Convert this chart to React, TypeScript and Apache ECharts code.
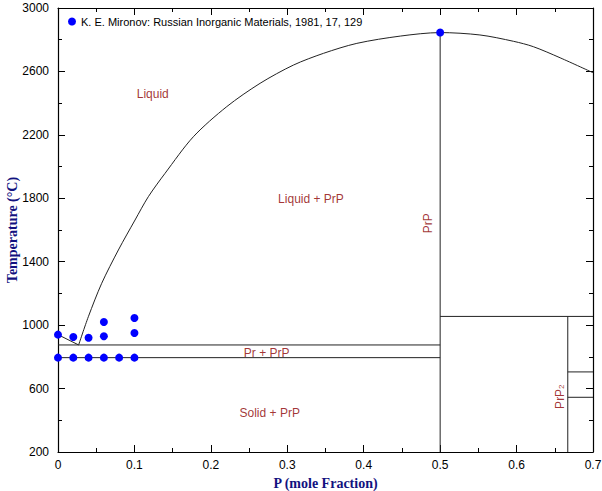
import React, { useEffect, useRef } from 'react';
import * as echarts from 'echarts';

const xTickValues = [0, 0.1, 0.2, 0.3, 0.4, 0.5, 0.6, 0.7];
const yTickValues = [200, 600, 1000, 1400, 1800, 2200, 2600, 3000];

const legendName = 'K. E. Mironov: Russian Inorganic Materials, 1981, 17, 129';

const liquidusCurve = [
  [0.027, 875], [0.0397, 1053], [0.0572, 1264], [0.079, 1474], [0.1008, 1663],
  [0.1182, 1810], [0.14, 1957], [0.1771, 2188], [0.2208, 2378], [0.2644, 2525],
  [0.308, 2640], [0.3473, 2714], [0.391, 2777], [0.448, 2823], [0.5, 2845],
  [0.552, 2830], [0.596, 2790], [0.622, 2756], [0.657, 2686], [0.7, 2592],
];
const prLiquidus = [[0, 940], [0.027, 875]];
const eutecticLine = [[0, 875], [0.5, 875]];
const transitionLine = [[0, 795], [0.5, 795]];
const prpLine = [[0.5, 200], [0.5, 2845]];
const prp2Peritectic = [[0.5, 1055], [0.7, 1055]];
const prp2Line = [[0.667, 200], [0.667, 1055]];
const line705 = [[0.667, 705], [0.7, 705]];
const line545 = [[0.667, 545], [0.7, 545]];

const mironovPoints = [
  [0, 940], [0.02, 925], [0.04, 920], [0.06, 1020], [0.06, 930],
  [0.1, 1045], [0.1, 950],
  [0, 795], [0.02, 795], [0.04, 795], [0.06, 795], [0.08, 795], [0.1, 795],
  [0.5, 2845],
];

const regionLabels = [
  { text: 'Liquid', x: 0.124, y: 2460, rotate: 0 },
  { text: 'Liquid + PrP', x: 0.331, y: 1795, rotate: 0 },
  { text: 'PrP', x: 0.484, y: 1642, rotate: 90 },
  { text: 'Pr + PrP', x: 0.273, y: 822, rotate: 0 },
  { text: 'Solid + PrP', x: 0.277, y: 444, rotate: 0 },
  { text: '{a|PrP}{s|2}', x: 0.655, y: 549, rotate: 90 },
];

const lineColor = '#222';
const labelColor = '#8b0000';
const nameColor = '#12127f';
const sans = 'Liberation Sans, Arial, Helvetica, sans-serif';
const serif = 'Liberation Serif, Times New Roman, serif';

function lineSeries(data: number[][], smooth: boolean | number = false) {
  return {
    type: 'line',
    data,
    symbol: 'none',
    smooth,
    silent: true,
    lineStyle: { color: lineColor, width: 1 },
    z: 2,
  };
}

export default function App() {
  const ref = useRef<HTMLDivElement>(null);
  useEffect(() => {
    if (!ref.current) return;
    const chart = echarts.init(ref.current, undefined, { renderer: 'svg' });
    const axisCommon = {
      type: 'value',
      axisLine: { show: true, onZero: false, lineStyle: { color: '#000', width: 1.2 } },
      axisTick: { show: true, inside: true, length: 7, lineStyle: { color: '#000', width: 1 } },
      minorTick: { show: true, splitNumber: 2, length: 4, lineStyle: { color: '#000', width: 1 } },
      splitLine: { show: false },
    };
    const xCommon = { ...axisCommon, min: 0, max: 0.7, interval: 0.1 };
    const yCommon = { ...axisCommon, min: 200, max: 3000, interval: 400 };
    chart.setOption({
      animation: false,
      backgroundColor: '#fff',
      grid: { left: 58, right: 9, top: 8, bottom: 39, containLabel: false, outerBoundsMode: 'none' },
      legend: {
        show: true,
        data: [{ name: legendName, icon: 'circle' }],
        left: 68,
        top: 16,
        padding: 0,
        itemWidth: 8,
        itemHeight: 8,
        textStyle: { fontSize: 11, color: '#000', fontFamily: sans },
      },
      xAxis: [
        {
          ...xCommon,
          position: 'bottom',
          name: 'P (mole Fraction)',
          nameLocation: 'middle',
          nameGap: 24,
          nameMoveOverlap: false,
          nameTextStyle: { fontFamily: serif, fontWeight: 'bold', fontSize: 14, color: nameColor },
          axisLabel: {
            show: true,
            margin: 7,
            fontSize: 12,
            color: '#000',
            fontFamily: sans,
            formatter: (v: number) => {
              const idx = xTickValues.findIndex((t) => Math.abs(t - v) < 1e-9);
              return idx >= 0 ? String(xTickValues[idx]) : '';
            },
          },
        },
        { ...xCommon, position: 'top', axisLabel: { show: false } },
      ],
      yAxis: [
        {
          ...yCommon,
          position: 'left',
          name: 'Temperature (°C)',
          nameLocation: 'middle',
          nameGap: 39,
          nameMoveOverlap: false,
          nameTextStyle: { fontFamily: serif, fontWeight: 'bold', fontSize: 14, color: nameColor },
          axisLabel: {
            show: true,
            margin: 9,
            fontSize: 12,
            color: '#000',
            fontFamily: sans,
            formatter: (v: number) => {
              const idx = yTickValues.findIndex((t) => Math.abs(t - v) < 1e-6);
              return idx >= 0 ? String(yTickValues[idx]) : '';
            },
          },
        },
        { ...yCommon, position: 'right', axisLabel: { show: false } },
      ],
      series: [
        lineSeries(liquidusCurve, 0.3),
        lineSeries(prLiquidus),
        lineSeries(eutecticLine),
        lineSeries(transitionLine),
        lineSeries(prpLine),
        lineSeries(prp2Peritectic),
        lineSeries(prp2Line),
        lineSeries(line705),
        lineSeries(line545),
        {
          type: 'scatter',
          name: 'labels',
          silent: true,
          symbolSize: 0,
          data: regionLabels.map((l) => ({
            value: [l.x, l.y],
            label: {
              show: true,
              position: 'inside',
              rotate: l.rotate,
              formatter: l.text,
              color: labelColor,
              fontSize: 12,
              fontFamily: sans,
              rich: {
                a: { fontSize: 12, color: labelColor, fontFamily: sans, verticalAlign: 'bottom', lineHeight: 14 },
                s: { fontSize: 8, color: labelColor, fontFamily: sans, verticalAlign: 'bottom', lineHeight: 8 },
              },
            },
          })),
          z: 3,
        },
        {
          type: 'scatter',
          name: legendName,
          data: mironovPoints,
          symbol: 'circle',
          symbolSize: 8,
          clip: false,
          itemStyle: { color: '#0000ff', opacity: 1 },
          z: 5,
        },
      ],
    });
    return () => chart.dispose();
  }, []);
  return <div ref={ref} style={{ width: 602, height: 491, position: 'absolute', left: 0, top: 0 }} />;
}
